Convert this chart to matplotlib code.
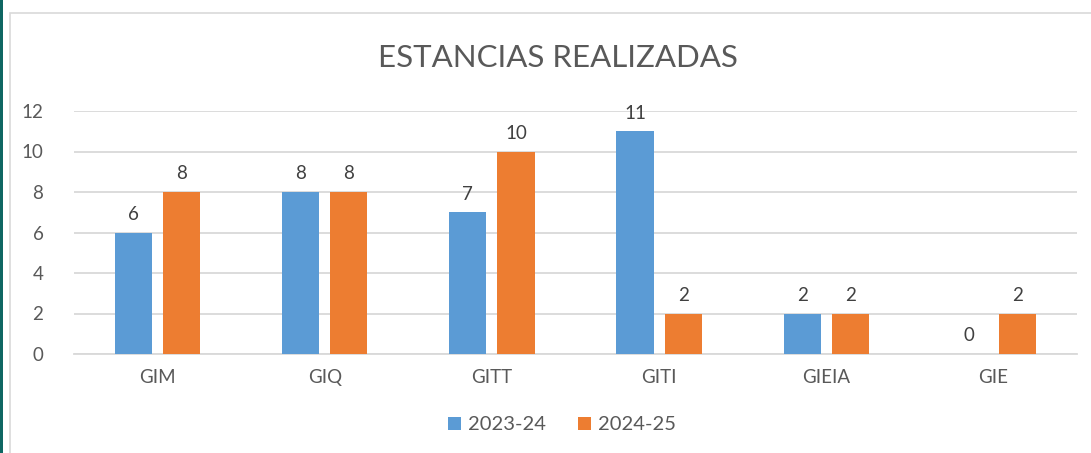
import matplotlib
matplotlib.use("Agg")
import matplotlib.pyplot as plt
from matplotlib.patches import Rectangle
import numpy as np

categories = ["GIM", "GIQ", "GITT", "GITI", "GIEIA", "GIE"]
series_names = ["2023-24", "2024-25"]
values_2023 = [6, 8, 7, 11, 2, 0]
values_2024 = [8, 8, 10, 2, 2, 2]
yticks = [0, 2, 4, 6, 8, 10, 12]

blue = "#5b9bd5"
orange = "#ed7d31"
text_col = "#595959"
grid_col = "#d9d9d9"

plt.rcParams['font.family'] = ['Lato', 'DejaVu Sans']

W, H = 1091, 453
fig = plt.figure(figsize=(W / 100, H / 100), dpi=100)

# left dark strip and chart border
fig.patches.append(Rectangle((0, 0), 3 / W, 1, transform=fig.transFigure,
                             facecolor="#0e6662", edgecolor="none", zorder=0))
fig.patches.append(Rectangle((9.5 / W, -0.1), 1.2, 1 - 12.5 / H + 0.1,
                             transform=fig.transFigure, facecolor="none",
                             edgecolor="#d9d9d9", linewidth=1.2, zorder=0))

x0, x1 = 74, 1077
y0, y1 = 354, 111
ax = fig.add_axes([x0 / W, 1 - y0 / H, (x1 - x0) / W, (y0 - y1) / H])

x = np.arange(len(categories))
bw = 0.222
gap = 0.066
off = (bw + gap) / 2
b1 = ax.bar(x - off, values_2023, bw, color=blue, label=series_names[0], zorder=3)
b2 = ax.bar(x + off, values_2024, bw, color=orange, label=series_names[1], zorder=3)

for bars in (b1, b2):
    for rect in bars:
        h = rect.get_height()
        ax.annotate(f"{int(h)}", (rect.get_x() + rect.get_width() / 2, h),
                    xytext=(0, 7), textcoords="offset points",
                    ha="center", va="bottom", fontsize=13.5, color="#404040")

ax.set_xlim(-0.5, len(categories) - 0.5)
ax.set_ylim(0, 12)
ax.set_yticks(yticks)
ax.set_yticklabels([str(t) for t in yticks])
ax.set_xticks(x)
ax.set_xticklabels(categories)
ax.tick_params(axis="both", length=0, labelsize=13.5, colors=text_col)
ax.tick_params(axis="y", pad=22)
ax.tick_params(axis="x", pad=11)
ax.grid(axis="y", color=grid_col, linewidth=1.3, zorder=0)
for s in ["top", "right", "left"]:
    ax.spines[s].set_visible(False)
ax.spines["bottom"].set_color(grid_col)
ax.spines["bottom"].set_linewidth(1.3)

fig.text(558 / W, 1 - 58 / H, "ESTANCIAS REALIZADAS", ha="center", va="center",
         fontsize=22.5, color=text_col)

fig.legend(handles=[b1, b2], labels=series_names, loc="center",
           bbox_to_anchor=(562 / W, 1 - 425 / H), ncol=2, frameon=False,
           fontsize=14.5, labelcolor=text_col, handlelength=0.65, handleheight=0.65,
           handletextpad=0.35, columnspacing=1.6)

fig.savefig("out.png", dpi=100, facecolor="white")
